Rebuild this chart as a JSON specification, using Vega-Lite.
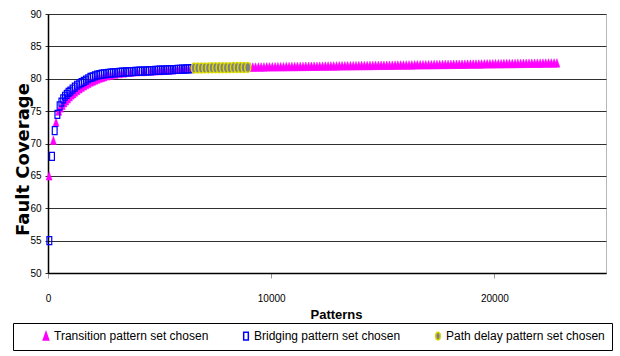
{
  "$schema": "https://vega.github.io/schema/vega-lite/v6.json",
  "autosize": "none",
  "width": 558,
  "height": 259,
  "padding": {"left": 48, "top": 14, "right": 14, "bottom": 83},
  "background": "#ffffff",
  "datasets": {
    "transition": [
      {"patterns": 50, "coverage": 65.0},
      {"patterns": 240, "coverage": 70.5},
      {"patterns": 360, "coverage": 73.3},
      {"patterns": 480, "coverage": 75.0},
      {"patterns": 560, "coverage": 75.5},
      {"patterns": 640, "coverage": 75.9},
      {"patterns": 720, "coverage": 76.3},
      {"patterns": 800, "coverage": 76.6},
      {"patterns": 880, "coverage": 76.9},
      {"patterns": 960, "coverage": 77.2},
      {"patterns": 1040, "coverage": 77.5},
      {"patterns": 1120, "coverage": 77.7},
      {"patterns": 1200, "coverage": 77.95},
      {"patterns": 1300, "coverage": 78.2},
      {"patterns": 1400, "coverage": 78.45},
      {"patterns": 1500, "coverage": 78.7},
      {"patterns": 1600, "coverage": 78.9},
      {"patterns": 1700, "coverage": 79.1},
      {"patterns": 1800, "coverage": 79.3},
      {"patterns": 1900, "coverage": 79.5},
      {"patterns": 2000, "coverage": 79.65},
      {"patterns": 2100, "coverage": 79.8},
      {"patterns": 2200, "coverage": 79.95},
      {"patterns": 2300, "coverage": 80.1},
      {"patterns": 2400, "coverage": 80.2},
      {"patterns": 2500, "coverage": 80.3},
      {"patterns": 2650, "coverage": 80.45},
      {"patterns": 2800, "coverage": 80.55},
      {"patterns": 3000, "coverage": 80.7},
      {"patterns": 3200, "coverage": 80.8},
      {"patterns": 3400, "coverage": 80.9},
      {"patterns": 3700, "coverage": 81.0},
      {"patterns": 4000, "coverage": 81.07},
      {"patterns": 4300, "coverage": 81.12},
      {"patterns": 4600, "coverage": 81.18},
      {"patterns": 4800, "coverage": 81.22},
      {"patterns": 5000, "coverage": 81.26},
      {"patterns": 5200, "coverage": 81.3},
      {"patterns": 5400, "coverage": 81.35},
      {"patterns": 5600, "coverage": 81.4},
      {"patterns": 5800, "coverage": 81.45},
      {"patterns": 6000, "coverage": 81.5},
      {"patterns": 6200, "coverage": 81.55},
      {"patterns": 6400, "coverage": 81.6},
      {"patterns": 9050, "coverage": 81.80},
      {"patterns": 9175, "coverage": 81.81},
      {"patterns": 9300, "coverage": 81.81},
      {"patterns": 9425, "coverage": 81.82},
      {"patterns": 9550, "coverage": 81.82},
      {"patterns": 9675, "coverage": 81.83},
      {"patterns": 9800, "coverage": 81.84},
      {"patterns": 9925, "coverage": 81.84},
      {"patterns": 10050, "coverage": 81.85},
      {"patterns": 10175, "coverage": 81.85},
      {"patterns": 10300, "coverage": 81.86},
      {"patterns": 10425, "coverage": 81.86},
      {"patterns": 10550, "coverage": 81.87},
      {"patterns": 10675, "coverage": 81.88},
      {"patterns": 10800, "coverage": 81.88},
      {"patterns": 10925, "coverage": 81.89},
      {"patterns": 11050, "coverage": 81.89},
      {"patterns": 11175, "coverage": 81.90},
      {"patterns": 11300, "coverage": 81.91},
      {"patterns": 11425, "coverage": 81.91},
      {"patterns": 11550, "coverage": 81.92},
      {"patterns": 11675, "coverage": 81.92},
      {"patterns": 11800, "coverage": 81.93},
      {"patterns": 11925, "coverage": 81.94},
      {"patterns": 12050, "coverage": 81.94},
      {"patterns": 12175, "coverage": 81.95},
      {"patterns": 12300, "coverage": 81.95},
      {"patterns": 12425, "coverage": 81.96},
      {"patterns": 12550, "coverage": 81.97},
      {"patterns": 12675, "coverage": 81.97},
      {"patterns": 12800, "coverage": 81.98},
      {"patterns": 12925, "coverage": 81.98},
      {"patterns": 13050, "coverage": 81.99},
      {"patterns": 13175, "coverage": 81.99},
      {"patterns": 13300, "coverage": 82.00},
      {"patterns": 13425, "coverage": 82.01},
      {"patterns": 13550, "coverage": 82.01},
      {"patterns": 13675, "coverage": 82.02},
      {"patterns": 13800, "coverage": 82.02},
      {"patterns": 13925, "coverage": 82.03},
      {"patterns": 14050, "coverage": 82.04},
      {"patterns": 14175, "coverage": 82.04},
      {"patterns": 14300, "coverage": 82.05},
      {"patterns": 14425, "coverage": 82.05},
      {"patterns": 14550, "coverage": 82.06},
      {"patterns": 14675, "coverage": 82.07},
      {"patterns": 14800, "coverage": 82.07},
      {"patterns": 14925, "coverage": 82.08},
      {"patterns": 15050, "coverage": 82.08},
      {"patterns": 15175, "coverage": 82.09},
      {"patterns": 15300, "coverage": 82.10},
      {"patterns": 15425, "coverage": 82.10},
      {"patterns": 15550, "coverage": 82.11},
      {"patterns": 15675, "coverage": 82.11},
      {"patterns": 15800, "coverage": 82.12},
      {"patterns": 15925, "coverage": 82.12},
      {"patterns": 16050, "coverage": 82.13},
      {"patterns": 16175, "coverage": 82.14},
      {"patterns": 16300, "coverage": 82.14},
      {"patterns": 16425, "coverage": 82.15},
      {"patterns": 16550, "coverage": 82.15},
      {"patterns": 16675, "coverage": 82.16},
      {"patterns": 16800, "coverage": 82.17},
      {"patterns": 16925, "coverage": 82.17},
      {"patterns": 17050, "coverage": 82.18},
      {"patterns": 17175, "coverage": 82.18},
      {"patterns": 17300, "coverage": 82.19},
      {"patterns": 17425, "coverage": 82.20},
      {"patterns": 17550, "coverage": 82.20},
      {"patterns": 17675, "coverage": 82.21},
      {"patterns": 17800, "coverage": 82.21},
      {"patterns": 17925, "coverage": 82.22},
      {"patterns": 18050, "coverage": 82.22},
      {"patterns": 18175, "coverage": 82.23},
      {"patterns": 18300, "coverage": 82.24},
      {"patterns": 18425, "coverage": 82.24},
      {"patterns": 18550, "coverage": 82.25},
      {"patterns": 18675, "coverage": 82.25},
      {"patterns": 18800, "coverage": 82.26},
      {"patterns": 18925, "coverage": 82.27},
      {"patterns": 19050, "coverage": 82.27},
      {"patterns": 19175, "coverage": 82.28},
      {"patterns": 19300, "coverage": 82.28},
      {"patterns": 19425, "coverage": 82.29},
      {"patterns": 19550, "coverage": 82.30},
      {"patterns": 19675, "coverage": 82.30},
      {"patterns": 19800, "coverage": 82.31},
      {"patterns": 19925, "coverage": 82.31},
      {"patterns": 20050, "coverage": 82.32},
      {"patterns": 20175, "coverage": 82.33},
      {"patterns": 20300, "coverage": 82.33},
      {"patterns": 20425, "coverage": 82.34},
      {"patterns": 20550, "coverage": 82.34},
      {"patterns": 20675, "coverage": 82.35},
      {"patterns": 20800, "coverage": 82.35},
      {"patterns": 20925, "coverage": 82.36},
      {"patterns": 21050, "coverage": 82.37},
      {"patterns": 21175, "coverage": 82.37},
      {"patterns": 21300, "coverage": 82.38},
      {"patterns": 21425, "coverage": 82.38},
      {"patterns": 21550, "coverage": 82.39},
      {"patterns": 21675, "coverage": 82.40},
      {"patterns": 21800, "coverage": 82.40},
      {"patterns": 21925, "coverage": 82.41},
      {"patterns": 22050, "coverage": 82.41},
      {"patterns": 22175, "coverage": 82.42},
      {"patterns": 22300, "coverage": 82.43},
      {"patterns": 22425, "coverage": 82.43},
      {"patterns": 22550, "coverage": 82.44},
      {"patterns": 22675, "coverage": 82.44},
      {"patterns": 22800, "coverage": 82.45}
    ],
    "bridging": [
      {"patterns": 60, "coverage": 55.0},
      {"patterns": 180, "coverage": 68.0},
      {"patterns": 300, "coverage": 72.0},
      {"patterns": 420, "coverage": 74.5},
      {"patterns": 520, "coverage": 75.8},
      {"patterns": 600, "coverage": 76.4},
      {"patterns": 680, "coverage": 76.9},
      {"patterns": 760, "coverage": 77.3},
      {"patterns": 840, "coverage": 77.6},
      {"patterns": 920, "coverage": 77.9},
      {"patterns": 1000, "coverage": 78.1},
      {"patterns": 1100, "coverage": 78.4},
      {"patterns": 1200, "coverage": 78.7},
      {"patterns": 1300, "coverage": 79.0},
      {"patterns": 1400, "coverage": 79.2},
      {"patterns": 1500, "coverage": 79.4},
      {"patterns": 1600, "coverage": 79.6},
      {"patterns": 1700, "coverage": 79.8},
      {"patterns": 1800, "coverage": 80.0},
      {"patterns": 1900, "coverage": 80.2},
      {"patterns": 2000, "coverage": 80.3},
      {"patterns": 2100, "coverage": 80.45},
      {"patterns": 2200, "coverage": 80.55},
      {"patterns": 2300, "coverage": 80.65},
      {"patterns": 2400, "coverage": 80.7},
      {"patterns": 2500, "coverage": 80.75},
      {"patterns": 2600, "coverage": 80.8},
      {"patterns": 2700, "coverage": 80.85},
      {"patterns": 2800, "coverage": 80.88},
      {"patterns": 2900, "coverage": 80.9},
      {"patterns": 3000, "coverage": 80.93},
      {"patterns": 3100, "coverage": 80.96},
      {"patterns": 3200, "coverage": 80.99},
      {"patterns": 3300, "coverage": 81.01},
      {"patterns": 3400, "coverage": 81.03},
      {"patterns": 3500, "coverage": 81.05},
      {"patterns": 3600, "coverage": 81.07},
      {"patterns": 3700, "coverage": 81.09},
      {"patterns": 3800, "coverage": 81.11},
      {"patterns": 3900, "coverage": 81.13},
      {"patterns": 4000, "coverage": 81.15},
      {"patterns": 4100, "coverage": 81.17},
      {"patterns": 4200, "coverage": 81.18},
      {"patterns": 4300, "coverage": 81.2},
      {"patterns": 4400, "coverage": 81.22},
      {"patterns": 4500, "coverage": 81.23},
      {"patterns": 4600, "coverage": 81.25},
      {"patterns": 4700, "coverage": 81.27},
      {"patterns": 4800, "coverage": 81.28},
      {"patterns": 4900, "coverage": 81.3},
      {"patterns": 5000, "coverage": 81.32},
      {"patterns": 5100, "coverage": 81.33},
      {"patterns": 5200, "coverage": 81.35},
      {"patterns": 5300, "coverage": 81.37},
      {"patterns": 5400, "coverage": 81.38},
      {"patterns": 5500, "coverage": 81.4},
      {"patterns": 5600, "coverage": 81.42},
      {"patterns": 5700, "coverage": 81.43},
      {"patterns": 5800, "coverage": 81.45},
      {"patterns": 5900, "coverage": 81.47},
      {"patterns": 6000, "coverage": 81.48},
      {"patterns": 6100, "coverage": 81.5},
      {"patterns": 6200, "coverage": 81.52},
      {"patterns": 6300, "coverage": 81.54},
      {"patterns": 6400, "coverage": 81.55}
    ],
    "pathDelay": [
      {"patterns": 6550, "coverage": 81.65},
      {"patterns": 6710, "coverage": 81.66},
      {"patterns": 6870, "coverage": 81.66},
      {"patterns": 7030, "coverage": 81.67},
      {"patterns": 7190, "coverage": 81.67},
      {"patterns": 7350, "coverage": 81.68},
      {"patterns": 7510, "coverage": 81.68},
      {"patterns": 7670, "coverage": 81.69},
      {"patterns": 7830, "coverage": 81.7},
      {"patterns": 7990, "coverage": 81.7},
      {"patterns": 8150, "coverage": 81.71},
      {"patterns": 8310, "coverage": 81.72},
      {"patterns": 8470, "coverage": 81.72},
      {"patterns": 8630, "coverage": 81.73},
      {"patterns": 8790, "coverage": 81.74},
      {"patterns": 8950, "coverage": 81.75}
    ]
  },
  "encoding": {
    "x": {
      "field": "patterns",
      "type": "quantitative",
      "scale": {"domain": [0, 25000], "nice": false},
      "axis": {
        "values": [0, 10000, 20000],
        "grid": false,
        "format": "d",
        "domainColor": "#000000",
        "domainWidth": 1.5,
        "tickColor": "#999999",
        "tickSize": 5,
        "labelFont": "Liberation Sans",
        "labelFontSize": 10,
        "labelColor": "#000000",
        "labelPadding": 15,
        "labelFlush": false,
        "title": "Patterns",
        "titleFont": "Liberation Sans",
        "titleFontSize": 13,
        "titleFontWeight": "bold",
        "titleColor": "#000000",
        "titleX": 288,
        "titleY": 45,
        "titleBaseline": "alphabetic"
      }
    },
    "y": {
      "field": "coverage",
      "type": "quantitative",
      "scale": {"domain": [50, 90], "nice": false, "zero": false},
      "axis": {
        "values": [50, 55, 60, 65, 70, 75, 80, 85, 90],
        "grid": true,
        "gridColor": "#303030",
        "gridWidth": 1,
        "domainColor": "#000000",
        "domainWidth": 1.5,
        "tickColor": "#303030",
        "tickSize": 3,
        "labelFont": "Liberation Sans",
        "labelFontSize": 10,
        "labelColor": "#000000",
        "labelPadding": 4,
        "title": "Fault Coverage",
        "titleFont": "DejaVu Sans",
        "titleFontSize": 18,
        "titleFontWeight": "bold",
        "titleColor": "#000000",
        "titleAngle": 270,
        "titleX": -20,
        "titleY": 145,
        "titleAlign": "center",
        "titleBaseline": "alphabetic"
      }
    }
  },
  "layer": [
    {
      "data": {"name": "transition"},
      "mark": {"type": "point", "filled": true, "opacity": 1, "size": 72, "strokeWidth": 0.5},
      "encoding": {
        "fill": {
          "datum": "Transition pattern set chosen",
          "type": "nominal",
          "title": null,
          "scale": {
            "domain": ["Transition pattern set chosen", "Bridging pattern set chosen", "Path delay pattern set chosen"],
            "range": ["#ff00ff", "rgba(0,0,0,0)", "#808080"]
          },
          "legend": {
            "orient": "none",
            "legendX": -35,
            "legendY": 309,
            "direction": "horizontal",
            "strokeColor": "#000000",
            "fillColor": "#ffffff",
            "padding": 7,
            "symbolOffset": 20,
            "columnPadding": 11,
            "labelOffset": 2,
            "labelFont": "Liberation Sans",
            "labelFontSize": 12,
            "labelColor": "#000000",
            "labelLimit": 0,
            "symbolSize": 60,
            "symbolStrokeWidth": 1.5
          }
        },
        "stroke": {
          "datum": "Transition pattern set chosen",
          "type": "nominal",
          "title": null,
          "scale": {
            "domain": ["Transition pattern set chosen", "Bridging pattern set chosen", "Path delay pattern set chosen"],
            "range": ["#ff00ff", "#0000ff", "#d8d800"]
          }
        },
        "shape": {
          "datum": "Transition pattern set chosen",
          "type": "nominal",
          "title": null,
          "scale": {
            "domain": ["Transition pattern set chosen", "Bridging pattern set chosen", "Path delay pattern set chosen"],
            "range": [
              "M0,-1L0.7,1L-0.7,1Z",
              "M-0.6,-1L0.6,-1L0.6,1L-0.6,1Z",
              "M0,-1A0.6,1 0 1,1 0,1A0.6,1 0 1,1 0,-1Z"
            ]
          }
        }
      }
    },
    {
      "data": {"name": "bridging"},
      "mark": {"type": "point", "filled": true, "opacity": 1, "size": 64, "strokeWidth": 1.2},
      "encoding": {
        "fill": {"datum": "Bridging pattern set chosen", "type": "nominal", "title": null},
        "stroke": {"datum": "Bridging pattern set chosen", "type": "nominal", "title": null},
        "shape": {"datum": "Bridging pattern set chosen", "type": "nominal", "title": null}
      }
    },
    {
      "data": {"name": "pathDelay"},
      "mark": {"type": "point", "filled": true, "opacity": 1, "size": 100, "strokeWidth": 1.5},
      "encoding": {
        "fill": {"datum": "Path delay pattern set chosen", "type": "nominal", "title": null},
        "stroke": {"datum": "Path delay pattern set chosen", "type": "nominal", "title": null},
        "shape": {"datum": "Path delay pattern set chosen", "type": "nominal", "title": null}
      }
    }
  ],
  "config": {
    "view": {"stroke": "#b8b8b8", "strokeWidth": 1},
    "axis": {"labelFontWeight": "normal"}
  }
}
